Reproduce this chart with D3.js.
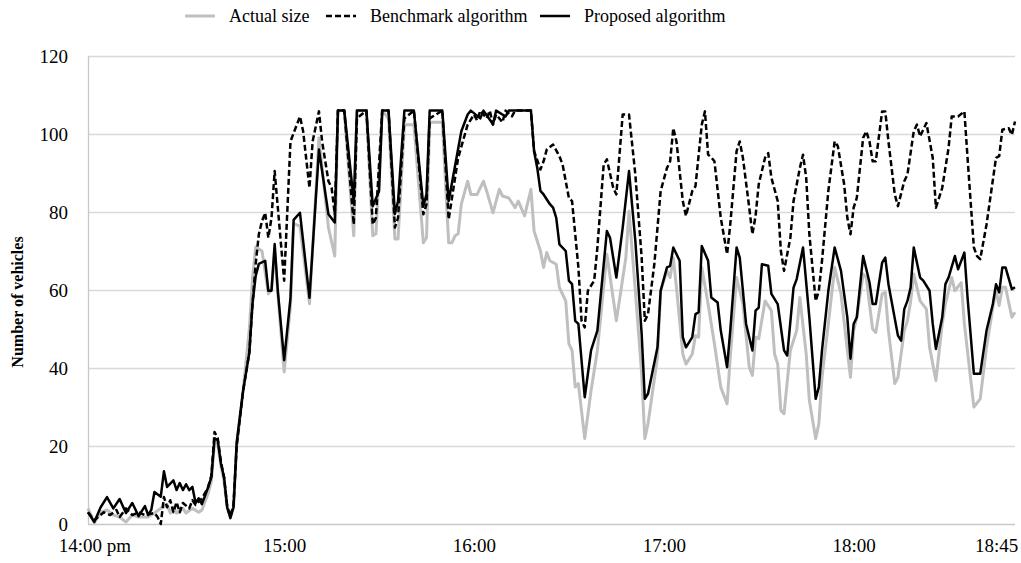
<!DOCTYPE html>
<html>
<head>
<meta charset="utf-8">
<script src="https://cdn.jsdelivr.net/npm/d3@7"></script>
<style>
  html, body { margin: 0; padding: 0; background: #fff; }
  svg { display: block; }
  text { font-family: "Liberation Serif", "DejaVu Serif", serif; fill: #000; }
</style>
</head>
<body>
<svg id="chart" width="1021" height="563"></svg>
<script>
// ---- Data (minutes after 14:00, number of vehicles) ----
const seriesNames = ["Actual size", "Benchmark algorithm", "Proposed algorithm"];

const actualSize = [
  [-2,4],[0,0.3],[2,3],[4,3.6],[6,2.3],[8,1.8],[10,0.5],[12,2.3],[14,1.8],[17,1.8],[19,2.8],[21,4],
  [23,4.9],[24,2.8],[25,4.3],[26,2.8],[28,4],[29,2.8],[31,4],[33,3],[34,3.6],[36,7.9],[37,11],[38,21],
  [39,20.5],[40,15],[41,11],[42,4],[43,2],[44,4.5],[45,20],[47,34],[49,50],[50,63],[51,71],[53,70],
  [55,59],[56,60],[57,70],[58,59],[60,39],[62,56],[63,77],[65,76.4],[68,56.5],[71,99],[74,76],[76,68.7],
  [77,106],[79,106],[82,73.9],[83,106],[86,106],[88,73.9],[89,74.4],[91,106],[93,104],[95,73.1],[96,73.1],
  [98,102.4],[101,102.4],[104,72.1],[105,73.4],[106,103],[110,103],[112,72.1],[113,72.1],[114,73.9],
  [115,74.4],[116,82],[118,87.9],[119,84.5],[121,84.5],[123,87.9],[124,85.4],[126,79.8],[128,85.8],
  [129,84.1],[131,83.6],[133,81.1],[134,82.8],[136,79],[138,85.8],[139,75.1],[141,70],[142,65.8],
  [143,69.6],[144,67.5],[146,66.6],[147,60.6],[149,57.2],[150,46.2],[151,44.5],[152,35.1],[153,36],
  [155,21.9],[157,34.2],[159,44.5],[162,69.2],[165,52.1],[168,68.3],[169,80.2],[171,59.8],[173,38.5],
  [174,21.9],[175,25.7],[178,42.8],[179,59.8],[181,64.9],[182,63.2],[183,68.3],[184,60.6],[186,43.6],
  [187,41],[189,43.6],[190,48.3],[191,47.9],[192,65.8],[194,56.4],[195,51.3],[196,46.2],[198,35.1],
  [200,30.8],[201,42.8],[203,63.2],[205,56.4],[207,40.2],[208,38.1],[209,47.9],[210,47.5],[212,57.2],
  [214,54.7],[215,43.6],[216,41],[217,29.1],[218,28.3],[220,44.5],[222,49.6],[223,58.1],[225,43.6],
  [226,31.7],[228,21.9],[229,25.7],[230,37.6],[232,51.3],[234,65.8],[236,59],[238,44.5],[239,37.6],
  [240,49.6],[241,53],[243,64.1],[244,63.2],[245,56.4],[246,50],[247,49.1],[249,59],[250,59.4],
  [251,49.6],[253,36],[254,37.6],[256,49.6],[257,52.1],[258,57],[259,64.1],[261,57.2],[263,55.1],
  [264,45.3],[266,36.8],[268,51.3],[269,56.4],[271,63.2],[272,59.8],[274,61.9],[275,51.3],[278,30],
  [280,32.1],[282,45.3],[284,55.5],[285,59.8],[286,56],[287,60.7],[288,60.7],[290,53],[291,54.3]
];

const benchmark = [
  [-2,3],[0,1],[3,3],[5,2.3],[7,3.6],[8,1.8],[10,4],[12,2.3],[14,3],[16,2.3],[19,2.8],[20,1.8],[21,0],
  [22,6.9],[23,4.3],[24,6.1],[25,3],[26,5.6],[27,3],[28,5.4],[30,4],[31,6.1],[32,4.9],[34,6.5],[36,9.5],
  [37,12.5],[38,23.6],[39,22],[40,16],[41,12],[42,4.5],[43,2],[44,5],[45,20],[47,34],[49,44],[50,56.5],
  [51,66.7],[52,74.3],[53,77.7],[54,79.8],[55,73.4],[56,78.5],[57,90.5],[58,81.1],[60,62.4],[62,98.1],
  [65,104.5],[66,100.7],[68,86.2],[69,98.1],[71,105.8],[72,98.1],[74,87.9],[75,86.2],[76,79.4],[77,106],
  [79,106],[82,76.8],[83,104],[86,106],[88,76.8],[89,78.5],[91,106],[93,106],[95,76],[96,78.5],[98,104],
  [101,106],[104,79.4],[105,82],[106,104],[110,106],[112,78.1],[115,93.9],[118,102.4],[120,105],
  [121,103.5],[122,106],[124,104],[125,106],[126,102.4],[127,105],[129,103],[130,106],[132,104.5],
  [133,106],[138,106],[139,95.6],[141,90.9],[142,93],[143,96],[145,97.3],[147,94.3],[148,92.2],[150,83.6],
  [151,82.8],[153,65.8],[154,52.1],[155,50.4],[156,59.8],[158,62.4],[159,70.9],[161,92.2],[162,93.5],
  [164,86.2],[165,84.5],[167,105],[169,105],[171,89.6],[173,68.3],[174,52.1],[175,53.8],[177,66.6],
  [179,85.4],[181,91.3],[182,93],[183,101.5],[184,98.1],[186,82.8],[187,79],[189,85.4],[190,86.6],
  [192,102.4],[193,105.8],[194,94.7],[195,94],[196,93],[198,78.5],[200,69.2],[201,76.8],[203,95.6],
  [204,98.1],[205,93.9],[207,81.1],[208,74.3],[209,79],[210,87.1],[212,93.9],[213,95.1],[214,88.8],
  [216,82.8],[217,70],[218,64.9],[220,73.4],[221,82.8],[223,91.3],[224,94.7],[225,88.8],[226,74.3],
  [228,57.2],[229,59.8],[230,67.5],[232,85.4],[234,98.1],[235,96.9],[237,87.1],[238,78.5],[239,74.3],
  [240,81.1],[241,83.6],[243,99],[244,100.7],[245,98.1],[246,93],[247,93],[249,105.8],[250,105.8],
  [251,98.1],[253,84.5],[254,81.5],[256,87.9],[257,89.6],[259,100.7],[260,102.4],[261,99.4],[263,102.8],
  [265,93.9],[266,81.1],[268,86.2],[270,96.4],[271,104.5],[273,104.5],[275,105.8],[276,93.9],[278,70.9],
  [279,68.7],[280,67.9],[282,76.8],[285,93.9],[286,94.3],[287,101.1],[289,101.5],[290,99.8],[291,103.2]
];

const proposed = [
  [-2,3],[0,0.5],[2,4.3],[4,6.9],[6,4],[8,6.4],[10,2.8],[12,5.4],[14,2],[16,4.6],[17,2.3],[18,3.6],
  [19,8.2],[21,7],[22,13.5],[23,9.5],[25,11.2],[26,8.7],[27,10.5],[28,8.7],[29,10.2],[30,8.7],[31,9.5],
  [32,5.4],[33,6.6],[34,5.1],[36,9.5],[37,12],[38,22],[39,21.5],[40,15.6],[41,12],[42,4.3],[43,1.5],
  [44,4.3],[45,21],[47,34],[49,44],[50,56.5],[51,63.6],[52,66.7],[54,67.5],[55,59.8],[56,59.8],[57,71.8],
  [58,59.8],[60,42],[62,58],[63,78],[65,79.8],[68,58],[71,96],[74,79.4],[76,77.3],[77,106],[79,106],
  [82,82.8],[83,106],[86,106],[88,81.5],[90,85.4],[91,106],[93,106],[95,79.5],[96,82.8],[98,106],
  [101,106],[104,81.5],[105,84.6],[106,106],[110,106],[112,82.8],[116,100.7],[118,105],[119,106],
  [122,104],[123,106],[126,102.5],[127,106],[130,104.5],[131,106],[138,106],[139,95.6],[140,91.3],
  [141,85.4],[142,84.5],[144,82],[145,81.1],[146,78.5],[147,71.7],[149,70],[150,62.4],[151,61.5],
  [152,52.1],[153,51.3],[155,32.5],[157,44.5],[159,49.6],[162,75.1],[163,73.4],[165,63.2],[167,76],
  [169,90.5],[171,72.6],[173,48.7],[174,32.1],[175,33.4],[178,45.3],[179,59.8],[181,65.8],[182,66.2],
  [183,70.9],[185,67.5],[186,47.9],[187,45.3],[189,47.9],[190,53.8],[191,54.3],[192,71.3],[194,67.5],
  [195,58.1],[197,56.8],[198,49.6],[200,40.2],[201,49.6],[203,70.9],[204,68.3],[206,51.3],[208,44.5],
  [209,54.7],[210,55.5],[211,66.6],[213,66.2],[214,59],[216,56.4],[218,44.5],[219,43.2],[221,60.6],
  [222,62.8],[224,70.9],[226,53],[228,32.1],[229,35.1],[230,44.5],[232,59.8],[234,70.9],[236,64.9],
  [238,53],[239,42.4],[240,51.3],[241,53],[243,68.7],[245,62],[246,56.4],[247,56.4],[249,67],[250,68.3],
  [251,61.5],[254,48.3],[255,47],[256,55.1],[257,57.2],[258,60.6],[259,70.9],[261,63.2],[262,62.4],
  [264,59.8],[265,51.3],[266,44.9],[268,53],[269,61.5],[270,63.2],[272,68.7],[273,65.3],[275,69.6],
  [276,58.1],[278,38.5],[280,38.5],[282,49.6],[284,56.4],[285,61.5],[286,59.4],[287,65.8],[288,65.8],
  [290,60.2],[291,60.7]
];

const yTicks = [0, 20, 40, 60, 80, 100, 120];
const xTickMinutes = [0, 60, 120, 180, 240, 285];
const xTickLabels = ["14:00 pm", "15:00", "16:00", "17:00", "18:00", "18:45"];

// ---- Layout ----
const svg = d3.select("#chart");
const plot = { left: 88, right: 1015, top: 56, bottom: 524 };

const x = d3.scaleLinear().domain([-2, 291]).range([plot.left, plot.right]);
const y = d3.scaleLinear().domain([0, 120]).range([plot.bottom, plot.top]);

// gridlines
svg.append("g")
  .selectAll("line")
  .data(yTicks)
  .join("line")
  .attr("x1", plot.left).attr("x2", plot.right)
  .attr("y1", d => y(d) + 0.5).attr("y2", d => y(d) + 0.5)
  .attr("stroke", d => d === 0 ? "#c8c8c8" : "#d9d9d9")
  .attr("stroke-width", 1.3);

// left axis line
svg.append("line")
  .attr("x1", plot.left + 0.5).attr("x2", plot.left + 0.5)
  .attr("y1", plot.top).attr("y2", plot.bottom)
  .attr("stroke", "#c8c8c8").attr("stroke-width", 1.3);

// y axis via d3 axis (labels only)
const yAxis = svg.append("g")
  .attr("transform", `translate(${plot.left},0)`)
  .call(d3.axisLeft(y).tickValues(yTicks).tickSize(0).tickPadding(20));
yAxis.select(".domain").remove();
yAxis.selectAll("text")
  .style("font-family", '"Liberation Serif", "DejaVu Serif", serif')
  .style("font-size", "19px")
  .attr("fill", "#000");

// x axis labels via d3 axis
const xAxis = svg.append("g")
  .attr("transform", `translate(0,${plot.bottom})`)
  .call(d3.axisBottom(x).tickValues(xTickMinutes)
    .tickFormat((d, i) => xTickLabels[i]).tickSize(0).tickPadding(15));
xAxis.select(".domain").remove();
xAxis.selectAll("text")
  .style("font-family", '"Liberation Serif", "DejaVu Serif", serif')
  .style("font-size", "19px")
  .attr("fill", "#000");

// y axis title
svg.append("text")
  .attr("transform", `translate(23,${(plot.top + plot.bottom) / 2 + 12}) rotate(-90)`)
  .attr("text-anchor", "middle")
  .style("font-size", "16px")
  .style("font-weight", "bold")
  .text("Number of vehicles");

// lines
const line = d3.line().x(d => x(d[0])).y(d => y(d[1]));

const styles = [
  { data: actualSize, stroke: "#bfbfbf", width: 3, dash: null },
  { data: benchmark, stroke: "#000", width: 2.5, dash: "6,3" },
  { data: proposed, stroke: "#000", width: 2.5, dash: null }
];

svg.append("g").selectAll("path")
  .data(styles)
  .join("path")
  .attr("d", s => line(s.data))
  .attr("fill", "none")
  .attr("stroke", s => s.stroke)
  .attr("stroke-width", s => s.width)
  .attr("stroke-dasharray", s => s.dash)
  .attr("stroke-linejoin", "round");

// legend
const legendItems = [
  { name: seriesNames[0], style: styles[0], x0: 185 },
  { name: seriesNames[1], style: styles[1], x0: 326 },
  { name: seriesNames[2], style: styles[2], x0: 540 }
];
const lg = svg.append("g");
legendItems.forEach(it => {
  lg.append("line")
    .attr("x1", it.x0).attr("x2", it.x0 + 30)
    .attr("y1", 16).attr("y2", 16)
    .attr("stroke", it.style.stroke)
    .attr("stroke-width", it.style.width)
    .attr("stroke-dasharray", it.style.dash);
  lg.append("text")
    .attr("x", it.x0 + 44).attr("y", 22)
    .style("font-size", "18px")
    .text(it.name);
});
</script>
</body>
</html>
